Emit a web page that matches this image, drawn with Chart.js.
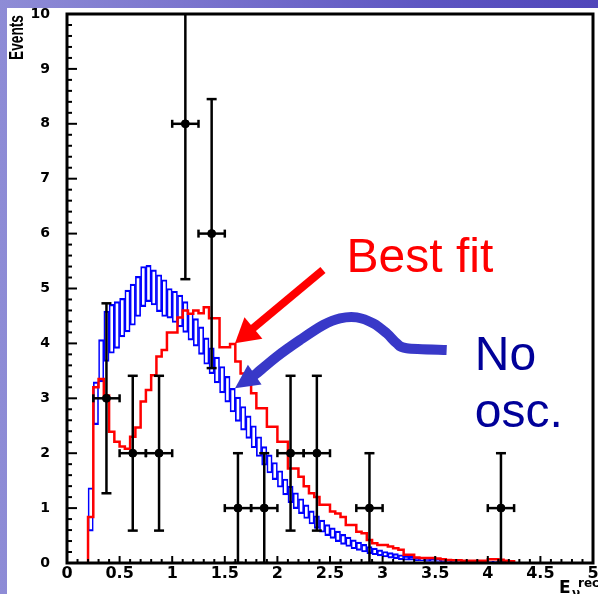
<!DOCTYPE html>
<html><head><meta charset="utf-8">
<script src="https://cdn.jsdelivr.net/npm/chart.js@4/dist/chart.umd.min.js"></script>
<style>
html,body{margin:0;padding:0;}
body{width:598px;height:594px;overflow:hidden;position:relative;
 background:linear-gradient(90deg,#8e8cd6 0%,#7c76ce 30%,#5e56c2 70%,#5046ba 100%);}
#wrap{position:absolute;left:7px;top:8px;width:591px;height:586px;background:#fff;}
canvas{display:block;}
</style></head><body>
<div id="wrap"><canvas id="c" width="591" height="586"></canvas></div>
<script>
// ---- data ----
const binStart = 0.2, binWidth = 0.05;
// Best-fit prediction (red step histogram), one value per 0.05 bin starting at 0.2
const bestFit = [0.84,3.20,3.35,3.05,2.39,2.21,2.12,2.08,2.30,2.47,2.94,3.15,3.42,3.76,3.88,4.20,4.20,4.47,4.60,4.54,
 4.60,4.55,4.66,4.46,4.46,3.93,3.93,3.99,3.67,3.45,3.25,3.09,2.82,2.82,2.48,2.48,2.21,2.21,1.72,1.72,
 1.57,1.40,1.27,1.20,1.06,1.06,0.94,0.90,0.84,0.69,0.69,0.57,0.54,0.42,0.36,0.33,0.33,0.30,0.27,0.24,
 0.15,0.15,0.10,0.09,0.09,0.09,0.08,0.07,0.055,0.05,0.05,0.04,0.04,0.04,0.04,0.04,0.07,0.07,0.06,0.04,0.03];
// No-oscillation prediction band (blue boxes): lower / upper edge per bin
const noOscLow = [0.58,2.52,3.30,3.67,3.82,3.91,4.12,4.21,4.33,4.49,4.67,4.76,4.70,4.58,4.49,4.46,4.38,4.30,4.20,4.06,
 3.95,3.80,3.62,3.45,3.28,3.10,2.93,2.75,2.58,2.42,2.27,2.10,1.94,1.78,1.64,1.52,1.38,1.24,1.10,0.99,
 0.90,0.81,0.71,0.63,0.56,0.50,0.45,0.39,0.34,0.30,0.26,0.23,0.20,0.17,0.15,0.13,0.11,0.09,0.08,0.06,
 0.05,0.05,0.04,0.04,0.03,0.03,0.03,0.02,0.02,0.02,0.02,0.02,0.01,0.01,0.01,0.01,0.01,0.01,0.01,null,null];
const noOscHigh = [1.37,3.30,4.07,4.59,4.71,4.76,4.82,4.97,5.08,5.22,5.40,5.42,5.34,5.25,5.16,5.00,4.95,4.88,4.76,4.55,
 4.45,4.30,4.10,3.92,3.75,3.58,3.40,3.18,3.02,2.85,2.68,2.50,2.30,2.12,1.97,1.83,1.68,1.53,1.40,1.28,
 1.17,1.06,0.95,0.86,0.78,0.70,0.64,0.58,0.52,0.47,0.42,0.38,0.34,0.30,0.27,0.24,0.21,0.19,0.17,0.15,
 0.13,0.12,0.10,0.09,0.08,0.07,0.07,0.06,0.05,0.05,0.04,0.04,0.04,0.03,0.03,0.03,0.03,0.03,0.03,null,null];
// Observed events
const dataX = [0.375,0.625,0.875,1.125,1.375,1.625,1.875,2.125,2.375,2.875,4.125];
const dataY = [3,2,2,8,6,1,1,2,2,1,1];
const dataErr = [1.73,1.41,1.41,2.83,2.45,1,1,1.41,1.41,1,1];
const dataXErr = 0.125;
// tick labels
const xTickLabels = ['0','0.5','1','1.5','2','2.5','3','3.5','4','4.5','5'];
const yTickLabels = ['0','1','2','3','4','5','6','7','8','9','10'];
// annotation anchors (data units)
const bestFitLabelPos = [2.657, 5.306];
const noLabelPos = [3.876, 3.515];
const oscLabelPos = [3.876, 2.483];
const redArrowPts = [[2.433,5.337],[1.597,4.002]];
const blueArrowPts = [[3.609,3.880],[3.229,3.911],[3.134,4.002],[3.039,4.184],[2.912,4.366],[2.754,4.475],
 [2.595,4.457],[2.436,4.335],[2.215,4.062],[1.993,3.758],[1.803,3.455],[1.597,3.182]];

// ---- build datasets ----
const redPts = [{x: binStart, y: 0}];
bestFit.forEach((v,i)=>redPts.push({x: binStart + i*binWidth, y: v}));
redPts.push({x: binStart + bestFit.length*binWidth, y: 0});
const blueBars = [];
noOscLow.forEach((lo,i)=>{ if(lo!==null) blueBars.push({x: binStart + (i+0.5)*binWidth, y: [lo, noOscHigh[i]]}); });
const pts = dataX.map((x,i)=>({x, y: dataY[i]}));

function seg(ctx,x1,y1,x2,y2){ctx.beginPath();ctx.moveTo(x1,y1);ctx.lineTo(x2,y2);ctx.stroke();}
function head(ctx, tip, from, len, half, color){
  const dx = tip[0]-from[0], dy = tip[1]-from[1], L = Math.hypot(dx,dy);
  const ux = dx/L, uy = dy/L;
  const bx = tip[0]-ux*len, by = tip[1]-uy*len;
  ctx.fillStyle = color;
  ctx.beginPath();
  ctx.moveTo(tip[0],tip[1]);
  ctx.lineTo(bx - uy*half, by + ux*half);
  ctx.lineTo(bx + uy*half, by - ux*half);
  ctx.closePath(); ctx.fill();
  return [tip[0]-ux*len*0.8, tip[1]-uy*len*0.8];
}

const decor = {
  id: 'decor',
  afterDatasetsDraw(chart){
    const {ctx, chartArea: a, scales: {x, y}} = chart;
    ctx.save();
    ctx.beginPath(); ctx.rect(a.left, a.top, a.right-a.left, a.bottom-a.top); ctx.clip();
    ctx.strokeStyle = '#000'; ctx.lineWidth = 2.5;
    dataX.forEach((xv,i)=>{
      const cx = x.getPixelForValue(xv), cy = y.getPixelForValue(dataY[i]);
      const t = y.getPixelForValue(dataY[i]+dataErr[i]), b = y.getPixelForValue(dataY[i]-dataErr[i]);
      const l = x.getPixelForValue(xv-dataXErr), r = x.getPixelForValue(xv+dataXErr);
      seg(ctx,cx,t,cx,b); seg(ctx,cx-5,t,cx+5,t); seg(ctx,cx-5,b,cx+5,b);
      seg(ctx,l,cy,r,cy); seg(ctx,l,cy-4,l,cy+4); seg(ctx,r,cy-4,r,cy+4);
    });
    ctx.restore();
  },
  afterDraw(chart){
    const {ctx, chartArea: a, scales: {x, y}} = chart;
    const P = p => [x.getPixelForValue(p[0]), y.getPixelForValue(p[1])];
    ctx.save();
    // ticks
    ctx.strokeStyle = '#000'; ctx.lineWidth = 2;
    for(let i=1;i<50;i++){
      const py = y.getPixelForValue(i/5);
      seg(ctx, a.left, py, a.left + (i%5===0 ? 10 : 5), py);
    }
    for(let i=1;i<50;i++){
      const px = x.getPixelForValue(i/10);
      seg(ctx, px, a.bottom, px, a.bottom - (i%5===0 ? 7 : 4));
    }
    // frame
    ctx.lineWidth = 3;
    ctx.strokeRect(a.left, a.top, a.right-a.left, a.bottom-a.top);
    // y title
    ctx.save();
    ctx.fillStyle = '#000';
    ctx.font = 'bold 20px "Liberation Sans", Arial, sans-serif';
    const w = ctx.measureText('Events').width;
    ctx.translate(16, 52);
    ctx.rotate(-Math.PI/2);
    ctx.scale(45/w, 1);
    ctx.textAlign = 'left'; ctx.textBaseline = 'alphabetic';
    ctx.fillText('Events', 0, 0);
    ctx.restore();
    // x title
    ctx.fillStyle = '#000'; ctx.textAlign = 'left'; ctx.textBaseline = 'alphabetic';
    ctx.font = 'bold 17px "DejaVu Sans", sans-serif';
    ctx.fillText('E', 552, 585);
    ctx.font = 'bold 12px "DejaVu Sans", sans-serif';
    ctx.fillText('\u03BD', 565, 589);
    ctx.fillText('rec', 571, 579);
    // annotations
    ctx.font = '48px "Liberation Sans", Arial, sans-serif';
    ctx.fillStyle = '#ff0000';
    let p = P(bestFitLabelPos); ctx.fillText('Best fit', p[0], p[1]);
    ctx.fillStyle = '#000099';
    p = P(noLabelPos); ctx.fillText('No', p[0], p[1]);
    p = P(oscLabelPos); ctx.fillText('osc.', p[0], p[1]);
    // red arrow
    const r0 = P(redArrowPts[0]), r1 = P(redArrowPts[1]);
    const rb = head(ctx, r1, r0, 24, 14, '#ff0000');
    ctx.strokeStyle = '#ff0000'; ctx.lineWidth = 8; ctx.lineCap = 'butt';
    seg(ctx, r0[0], r0[1], rb[0], rb[1]);
    // blue curved arrow
    const bp = blueArrowPts.map(P);
    const tip = bp[bp.length-1], prev = bp[bp.length-2];
    const bb = head(ctx, tip, prev, 24, 12, '#3838c8');
    const path = bp.slice(0, bp.length-1).concat([bb]);
    ctx.strokeStyle = '#3838c8'; ctx.lineWidth = 10; ctx.lineCap = 'butt'; ctx.lineJoin = 'round';
    ctx.beginPath(); ctx.moveTo(path[0][0], path[0][1]);
    for(let i=0;i<path.length-1;i++){
      const p0 = path[i-1]||path[i], p1 = path[i], p2 = path[i+1], p3 = path[i+2]||path[i+1];
      ctx.bezierCurveTo(p1[0]+(p2[0]-p0[0])/6, p1[1]+(p2[1]-p0[1])/6,
                        p2[0]-(p3[0]-p1[0])/6, p2[1]-(p3[1]-p1[1])/6, p2[0], p2[1]);
    }
    ctx.stroke();
    ctx.restore();
  }
};

const tickFont = s => ({family: '"DejaVu Sans", sans-serif', weight: 'bold', size: s});
new Chart(document.getElementById('c'), {
  type: 'scatter',
  data: { datasets: [
    { type: 'bar', data: blueBars, backgroundColor: 'rgba(0,0,0,0)', borderColor: '#0000ff',
      borderWidth: {left:1, right:1, top:1.5, bottom:1.5}, borderSkipped: false,
      barPercentage: 1, categoryPercentage: 1, grouped: false, order: 3 },
    { type: 'line', data: redPts, stepped: true, borderColor: '#ff0000', borderWidth: 2.5,
      pointRadius: 0, fill: false, tension: 0, order: 2 },
    { type: 'scatter', data: pts, pointRadius: 4, backgroundColor: '#000', borderColor: '#000', order: 1 }
  ]},
  options: {
    responsive: false, animation: false, events: [],
    layout: {padding: {top: 6, right: 5, left: 0, bottom: 0}},
    plugins: {legend: {display: false}, tooltip: {enabled: false}},
    scales: {
      x: { type: 'linear', min: 0, max: 5, offset: false,
        grid: {display: false, drawTicks: false}, border: {display: false},
        ticks: {stepSize: 0.5, autoSkip: false, maxRotation: 0, padding: 1, color: '#000', font: tickFont(16),
          callback: (v,i) => xTickLabels[i]},
        afterFit(s){ s.height = 31; s.paddingLeft = 0; s.paddingRight = 0; } },
      y: { type: 'linear', min: 0, max: 10,
        grid: {display: false, drawTicks: false}, border: {display: false},
        ticks: {stepSize: 1, autoSkip: false, padding: 17, color: '#000', font: tickFont(14),
          callback: (v,i) => yTickLabels[i]},
        afterFit(s){ s.width = 60; s.paddingTop = 0; s.paddingBottom = 0; } }
    }
  },
  plugins: [decor]
});
</script>
</body></html>
